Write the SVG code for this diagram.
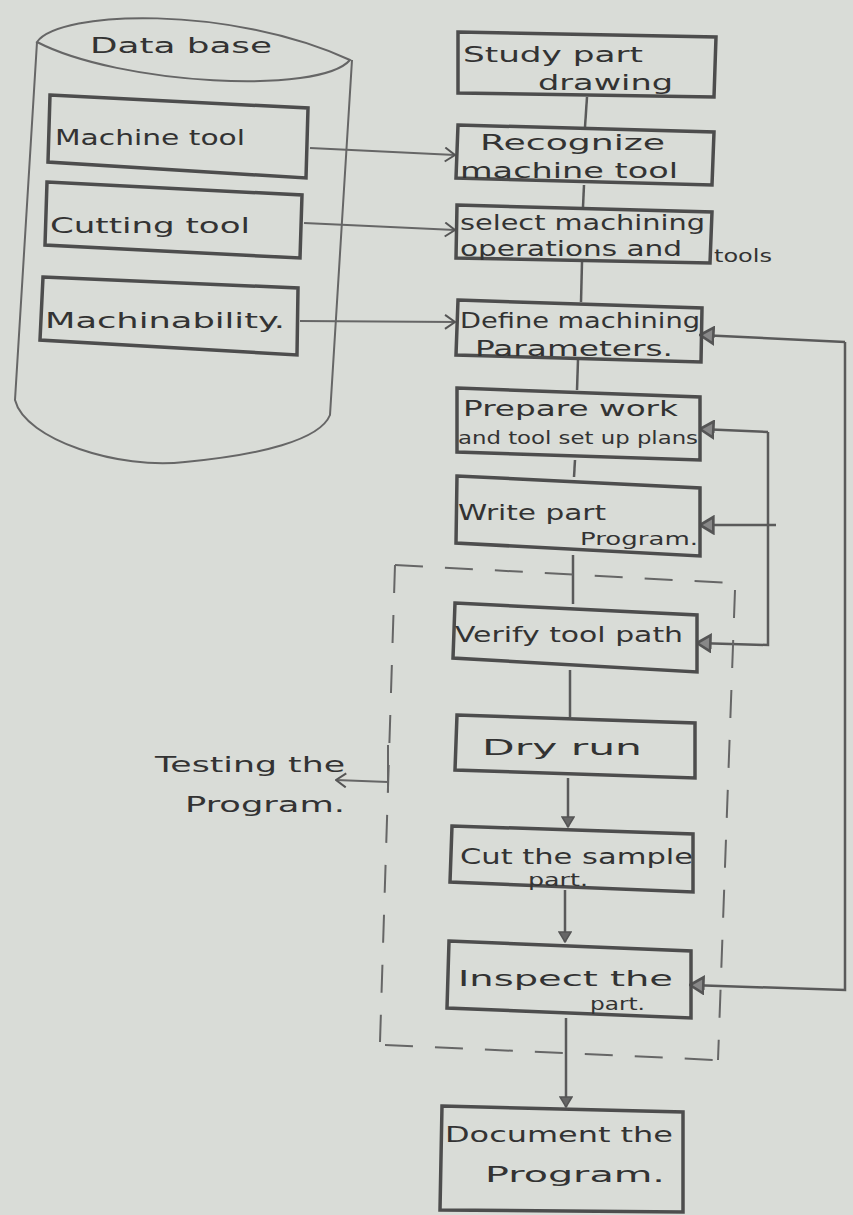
<svg xmlns="http://www.w3.org/2000/svg" width="853" height="1215" viewBox="0 0 853 1215">
<defs>
<marker id="chev" viewBox="0 0 12 16" refX="11" refY="8" markerWidth="12" markerHeight="16" markerUnits="userSpaceOnUse" orient="auto">
<path d="M1,1 L11,8 L1,15" fill="none" stroke="#555" stroke-width="2"/>
</marker>
<marker id="tri" viewBox="0 0 12 14" refX="11" refY="7" markerWidth="12" markerHeight="14" markerUnits="userSpaceOnUse" orient="auto">
<path d="M1,1 L11,7 L1,13 Z" fill="#666" stroke="#555" stroke-width="1.5"/>
</marker>
<marker id="tri2" viewBox="0 0 12 14" refX="11" refY="7" markerWidth="16" markerHeight="20" markerUnits="userSpaceOnUse" orient="auto">
<path d="M1,1 L11,7 L1,13 Z" fill="#888" stroke="#555" stroke-width="2"/>
</marker>
</defs>
<style>
.bg{fill:#d9dcd7}
.box{fill:none;stroke:#4d4d4d;stroke-width:3.5}
.ln{fill:none;stroke:#5a5a5a;stroke-width:2.5}
.thin{fill:none;stroke:#666;stroke-width:2}
.dash{fill:none;stroke:#666;stroke-width:2;stroke-dasharray:28 22}
text{font-family:"DejaVu Sans","Liberation Sans",sans-serif;fill:#333;font-size:22px}
.s{font-size:18px}
</style>
<rect class="bg" x="0" y="0" width="853" height="1215"/>

<g id="database">
<path class="thin" d="M37,42 C60,10 230,5 350,60 C320,95 120,85 37,42 Z"/>
<path class="thin" d="M37,42 L15,400 C25,440 120,470 185,462 C260,455 320,440 330,415 L352,60"/>
<text x="90" y="53" font-size="26" textLength="182" lengthAdjust="spacingAndGlyphs">Data base</text>
</g>
<g id="db-machine-tool">
<path class="box" d="M50,95 L308,108 L306,178 L48,162 Z"/>
<text x="55" y="145" textLength="190" lengthAdjust="spacingAndGlyphs">Machine tool</text>
</g>
<g id="db-cutting-tool">
<path class="box" d="M47,182 L302,195 L300,258 L45,245 Z"/>
<text x="50" y="233" textLength="200" lengthAdjust="spacingAndGlyphs">Cutting tool</text>
</g>
<g id="db-machinability">
<path class="box" d="M43,277 L298,288 L297,355 L40,340 Z"/>
<text x="45" y="328" textLength="240" lengthAdjust="spacingAndGlyphs">Machinability.</text>
</g>

<g id="connectors">
<path class="thin" d="M310,148 L455,155" marker-end="url(#chev)"/>
<path class="thin" d="M304,223 L455,230" marker-end="url(#chev)"/>
<path class="thin" d="M300,321 L455,322" marker-end="url(#chev)"/>
<path class="ln" d="M587,97 L585,127"/>
<path class="ln" d="M584,185 L583,207"/>
<path class="ln" d="M582,262 L581,302"/>
<path class="ln" d="M578,360 L577,390"/>
<path class="ln" d="M575,460 L574,477"/>
<path class="ln" d="M573,555 L573,604"/>
<path class="ln" d="M570,670 L570,717"/>
<path class="ln" d="M568,778 L568,827" marker-end="url(#tri)"/>
<path class="ln" d="M565,890 L565,942" marker-end="url(#tri)"/>
<path class="ln" d="M566,1018 L566,1107" marker-end="url(#tri)"/>
<path class="ln" d="M845,342 L845,990 L690,985" marker-end="url(#tri2)"/>
<path class="ln" d="M845,342 L700,335" marker-end="url(#tri2)"/>
<path class="ln" d="M768,432 L768,645 L697,643" marker-end="url(#tri2)"/>
<path class="ln" d="M768,432 L700,429" marker-end="url(#tri2)"/>
<path class="ln" d="M776,525 L700,525" marker-end="url(#tri2)"/>
<path class="dash" d="M395,565 L730,583"/>
<path class="dash" d="M395,565 L380,1042"/>
<path class="dash" d="M385,1045 L715,1060"/>
<path class="dash" d="M735,590 L718,1060"/>
<path class="thin" d="M388,745 L388,792"/>
<path class="thin" d="M388,782 L336,780" marker-end="url(#chev)"/>
</g>

<g id="n1"><path class="box" d="M458,32 L716,37 L714,97 L458,93 Z"/>
<text x="463" y="62" textLength="180" lengthAdjust="spacingAndGlyphs">Study part</text>
<text x="538" y="90" textLength="135" lengthAdjust="spacingAndGlyphs">drawing</text></g>
<g id="n2"><path class="box" d="M458,125 L714,132 L712,185 L456,178 Z"/>
<text x="480" y="150" textLength="185" lengthAdjust="spacingAndGlyphs">Recognize</text>
<text x="460" y="178" textLength="218" lengthAdjust="spacingAndGlyphs">machine tool</text></g>
<g id="n3"><path class="box" d="M457,205 L712,212 L710,263 L456,258 Z"/>
<text x="460" y="230" textLength="245" lengthAdjust="spacingAndGlyphs">select machining</text>
<text x="460" y="256" textLength="222" lengthAdjust="spacingAndGlyphs">operations and</text>
<text class="s" x="714" y="262" textLength="58" lengthAdjust="spacingAndGlyphs">tools</text></g>
<g id="n4"><path class="box" d="M458,300 L702,308 L701,362 L456,355 Z"/>
<text x="460" y="328" textLength="240" lengthAdjust="spacingAndGlyphs">Define machining</text>
<text x="475" y="356" textLength="198" lengthAdjust="spacingAndGlyphs">Parameters.</text></g>
<g id="n5"><path class="box" d="M457,388 L700,397 L700,460 L457,452 Z"/>
<text x="463" y="416" textLength="215" lengthAdjust="spacingAndGlyphs">Prepare work</text>
<text class="s" x="458" y="444" font-size="20" textLength="240" lengthAdjust="spacingAndGlyphs">and tool set up plans</text></g>
<g id="n6"><path class="box" d="M457,476 L700,488 L700,556 L456,543 Z"/>
<text x="458" y="520" textLength="148" lengthAdjust="spacingAndGlyphs">Write part</text>
<text class="s" x="580" y="545" textLength="118" lengthAdjust="spacingAndGlyphs">Program.</text></g>
<g id="n7"><path class="box" d="M455,603 L697,615 L697,672 L453,658 Z"/>
<text x="455" y="642" textLength="228" lengthAdjust="spacingAndGlyphs">Verify tool path</text></g>
<g id="n8"><path class="box" d="M457,715 L695,723 L695,778 L455,770 Z"/>
<text x="482" y="755" textLength="160" lengthAdjust="spacingAndGlyphs">Dry run</text></g>
<g id="n9"><path class="box" d="M452,826 L693,834 L693,892 L450,882 Z"/>
<text x="460" y="864" textLength="233" lengthAdjust="spacingAndGlyphs">Cut the sample</text>
<text class="s" x="528" y="886" textLength="60" lengthAdjust="spacingAndGlyphs">part.</text></g>
<g id="n10"><path class="box" d="M449,941 L691,951 L691,1018 L447,1008 Z"/>
<text x="458" y="986" textLength="215" lengthAdjust="spacingAndGlyphs">Inspect the</text>
<text class="s" x="590" y="1010" textLength="55" lengthAdjust="spacingAndGlyphs">part.</text></g>
<g id="n11"><path class="box" d="M442,1106 L683,1112 L683,1212 L440,1210 Z"/>
<text x="445" y="1142" textLength="228" lengthAdjust="spacingAndGlyphs">Document the</text>
<text x="485" y="1182" textLength="180" lengthAdjust="spacingAndGlyphs">Program.</text></g>

<g id="testing-label">
<text x="155" y="772" font-size="26" textLength="190" lengthAdjust="spacingAndGlyphs">Testing the</text>
<text x="185" y="812" font-size="26" textLength="160" lengthAdjust="spacingAndGlyphs">Program.</text>
</g>
</svg>
